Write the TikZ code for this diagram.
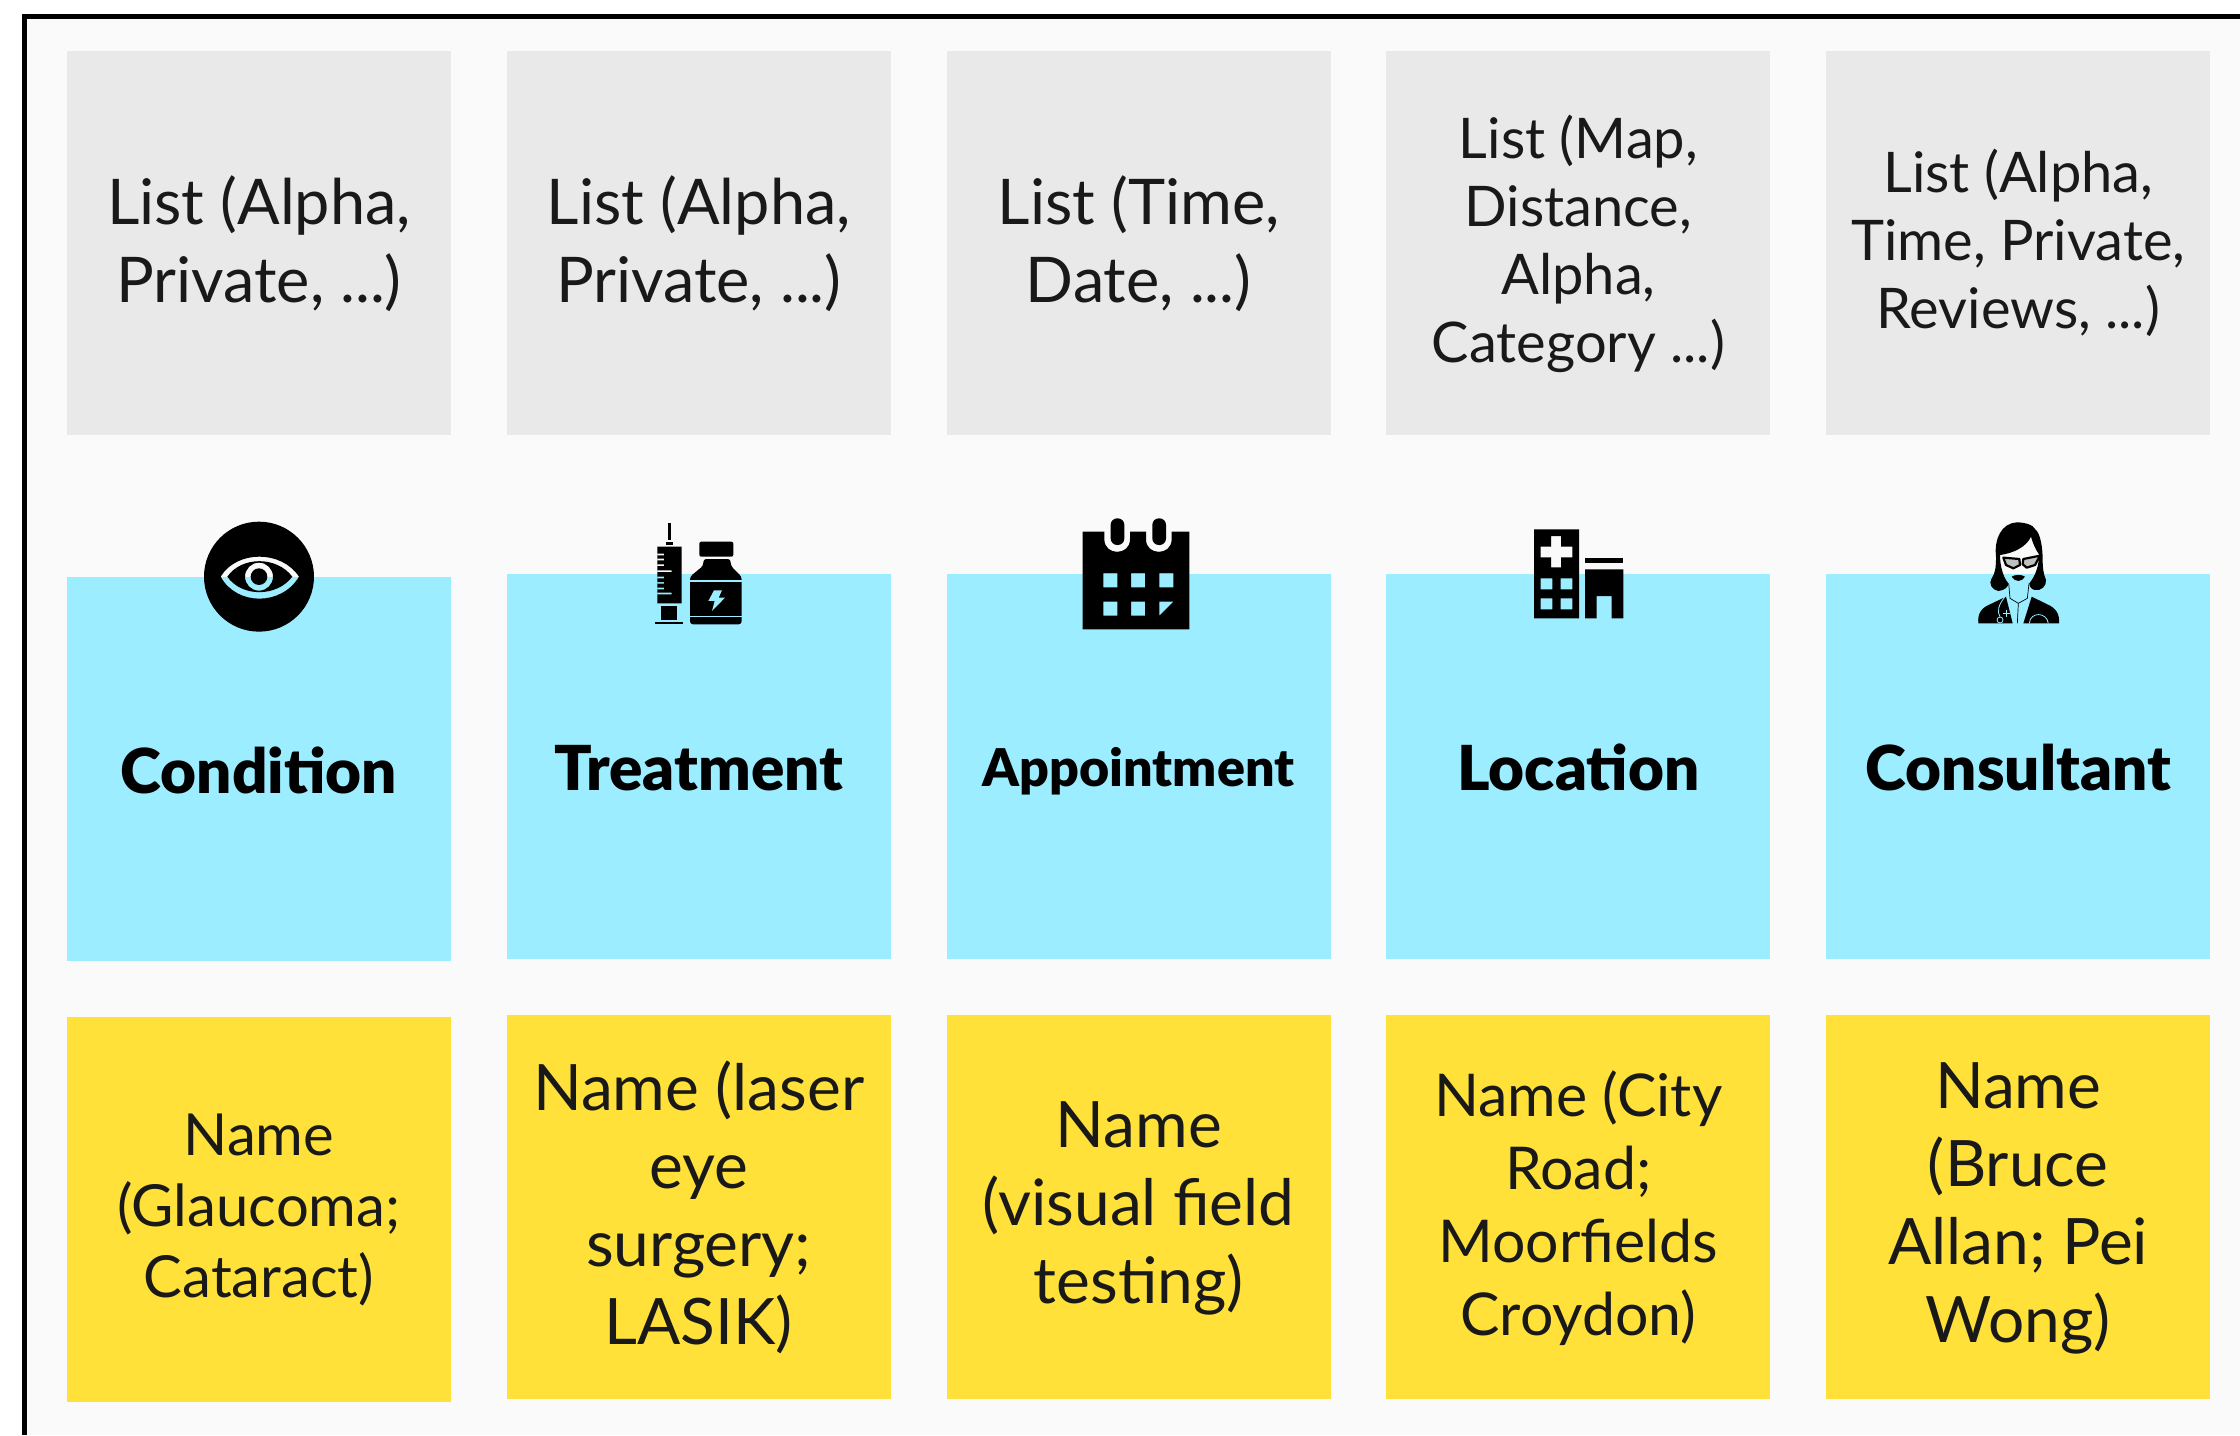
\documentclass[tikz,border=0pt]{standalone}
\usepackage{fontspec}
\setmainfont{Lato}
\newfontfamily\heavyfont{Lato}[UprightFont=* Black]
\usepackage{xcolor}
\usetikzlibrary{positioning}
\definecolor{panel}{HTML}{FAFAFA}
\definecolor{listgrey}{HTML}{E9E9E9}
\definecolor{entityblue}{HTML}{9CEDFF}
\definecolor{nameyellow}{HTML}{FFE139}
\tikzset{
    node distance = 55.8pt,
    lift/.style={execute at begin node=\rule{0pt}{#1}},
    box/.style={shape=rectangle,minimum width=384pt,minimum height=384.5pt,inner sep=0,outer sep=0,align=center,text=black!90},
    list node/.style={box,fill=listgrey,text depth=8pt,font=\fontsize{63}{78}\selectfont},
    small list node/.style={box,fill=listgrey,text depth=8pt,font=\fontsize{56}{68}\selectfont},
    entity node/.style={box,fill=entityblue,text=black,font=\fontsize{62}{70}\heavyfont},
    name node/.style={box,fill=nameyellow,text depth=8pt,font=\fontsize{64}{78}\selectfont},
    small name node/.style={box,fill=nameyellow,text depth=8pt,font=\fontsize{58}{71}\selectfont},
    icon/.style={shift={#1},scale=0.3333}
}
\begin{document}
\begin{tikzpicture}[x=1pt,y=-1pt]
    \useasboundingbox (0,0) rectangle (2240,1435);
    \fill[panel] (24.5,16.5) rectangle (2240,1435);
    \draw[line width=5.5pt] (24.5,1435) -- (24.5,16.5) -- (2240,16.5);
    % top row
    \node(list1)[list node] at (259,243) {List (Alpha,\\Private, ...)};
    \node(list2)[list node,right=of list1] {List (Alpha,\\Private, ...)};
    \node(list3)[list node,right=of list2] {List (Time,\\Date, ...)};
    \node(list4)[small list node,right=of list3] {List (Map,\\Distance,\\Alpha,\\Category ...)};
    \node(list5)[small list node,right=of list4] {List (Alpha,\\Time, Private,\\Reviews, ...)};
    % middle row
    \node(condition)[entity node,lift=.8em,below=141.7pt of list1] {Condition};
    \node(treatment)[entity node,lift=.8em,below=138.9pt of list2] {Treatment};
    \node(appointment)[entity node,lift=.925em,below=138.9pt of list3,font=\fontsize{52}{60}\heavyfont] {Appointment};
    \node(location)[entity node,lift=.8em,below=138.9pt of list4] {Location};
    \node(consultant)[entity node,lift=.8em,below=138.9pt of list5] {Consultant};
    % bottom row
    \node(name1)[small name node,below=56pt of condition] {Name\\(Glaucoma;\\Cataract)};
    \node(name2)[name node,below=56pt of treatment] {Name (laser\\eye\\surgery;\\LASIK)};
    \node(name3)[name node,below=56pt of appointment] {Name\\(visual field\\testing)};
    \node(name4)[small name node,below=56pt of location,font=\fontsize{59}{73}\selectfont] {Name (City\\Road;\\Moorfields\\Croydon)};
    \node(name5)[name node,below=56pt of consultant] {Name\\(Bruce\\Allan; Pei\\Wong)};
    % eye
    \begin{scope}[icon={(190,510)}]
        \fill[even odd rule] (207,200) circle (165)
            (92,200) .. controls (140,120) and (275,120) .. (327,200) .. controls (275,288) and (140,288) .. (92,200) -- cycle
            (112,200) .. controls (155,138) and (260,138) .. (307,200) .. controls (260,262) and (155,262) .. (112,200) -- cycle
            (207,200) circle (42)
            (207,200) circle (25);
    \end{scope}
    % syringe and bottle
    \begin{scope}[icon={(640,515)}]
        \fill (85,25) rectangle (92,75);
        \fill (78,80) rectangle (100,90);
        \fill[even odd rule] (52,95) rectangle (125,265)
            (52,116) rectangle (72,121) (52,131) rectangle (72,136) (52,148) rectangle (72,153)
            (52,166) rectangle (95,171) (52,185) rectangle (72,190) (52,201) rectangle (72,206)
            (52,218) rectangle (72,223) (52,233) rectangle (95,238);
        \fill (62,272) rectangle (110,315);
        \fill (45,320) rectangle (130,328);
        \fill[rounded corners=2pt] (178,80) rectangle (280,125);
        \fill[rounded corners=3pt] (190,132) -- (272,132) -- (272,152) -- (305,185) -- (305,328) -- (150,328) -- (150,185) -- (190,152) -- cycle;
        \fill[entityblue] (150,195) rectangle (305,200);
        \fill[entityblue] (150,303) rectangle (305,307);
        \fill[entityblue] (222,226) -- (246,226) -- (236,248) -- (255,248) -- (216,288) -- (224,258) -- (205,258) -- cycle;
    \end{scope}
    % calendar
    \begin{scope}[icon={(1070,510)}]
        \fill[even odd rule] (38,65) -- (103,65) -- (103,88) .. controls (103,138) and (180,138) .. (180,88) -- (180,65)
            -- (228,65) -- (228,88) .. controls (228,138) and (305,138) .. (305,88) -- (305,65)
            -- (358,65) -- (358,358) -- (38,358) -- cycle
            (100,190) rectangle (142,232) (183,190) rectangle (225,232) (268,190) rectangle (310,232)
            (100,275) rectangle (142,317) (183,275) rectangle (225,317) (268,275) -- (310,275) -- (268,317) -- cycle;
        \fill[rounded corners=6.5pt] (122,25) rectangle (163,105);
        \fill[rounded corners=6.5pt] (247,25) rectangle (288,105);
    \end{scope}
    % hospital
    \begin{scope}[icon={(1520,520)}]
        \fill[even odd rule] (42,28) rectangle (177,295)
            (62,80) -- (93,80) -- (93,48) -- (123,48) -- (123,80) -- (157,80) -- (157,112) -- (123,112) -- (123,142) -- (93,142) -- (93,112) -- (62,112) -- cycle
            (62,175) rectangle (97,208) (122,175) rectangle (157,208)
            (62,235) rectangle (97,268) (122,235) rectangle (157,268);
        \fill (195,115) rectangle (310,128);
        \fill (195,148) -- (310,148) -- (310,295) -- (275,295) -- (275,228) -- (230,228) -- (230,295) -- (195,295) -- cycle;
    \end{scope}
    % doctor
    \begin{scope}[icon={(1970,515)}]
        \fill (85,228) .. controls (65,225) and (55,205) .. (65,190) .. controls (78,170) and (78,150) .. (78,125)
            .. controls (72,70) and (95,25) .. (140,22) .. controls (165,22) and (190,30) .. (195,42)
            .. controls (212,55) and (218,100) .. (218,135) .. controls (218,165) and (222,180) .. (228,195)
            .. controls (230,215) and (212,228) .. (195,225) .. controls (185,224) and (178,215) .. (178,205)
            .. controls (198,180) and (207,150) .. (207,118) .. controls (198,105) and (190,90) .. (183,65)
            .. controls (170,95) and (130,115) .. (90,120) .. controls (90,150) and (98,185) .. (115,205)
            .. controls (115,215) and (105,226) .. (85,228) -- cycle;
        \draw[line width=2.2pt,fill=black!25,line join=round] (100,128) -- (148,132) -- (150,150) -- (130,160) -- (108,150) -- cycle;
        \draw[line width=2.2pt,fill=black!25,line join=round] (160,132) -- (210,122) -- (195,150) -- (170,158) -- (158,148) -- cycle;
        \fill (125,185) .. controls (135,178) and (155,178) .. (165,185) .. controls (155,202) and (135,202) .. (125,185) -- cycle;
        \fill (25,325) .. controls (22,295) and (35,278) .. (60,268) -- (108,245) -- (128,325) -- cycle;
        \fill (267,325) .. controls (270,295) and (255,278) .. (232,268) -- (185,245) -- (160,325) -- cycle;
        \draw[line width=0.7pt] (116,205) -- (120,250) -- (145,265) -- (172,250) -- (177,205);
        \draw[line width=0.7pt] (145,265) -- (142,325);
        \draw[entityblue,line width=0.8pt] (105,245) .. controls (85,270) and (80,290) .. (90,305);
        \draw[entityblue,line width=0.8pt] (90,315) circle (9);
        \draw[entityblue,line width=0.8pt] (178,325) .. controls (180,290) and (230,290) .. (235,325);
        \draw[entityblue,line width=1pt] (100,295) -- (120,295) (110,285) -- (110,305);
    \end{scope}
\end{tikzpicture}
\end{document}
